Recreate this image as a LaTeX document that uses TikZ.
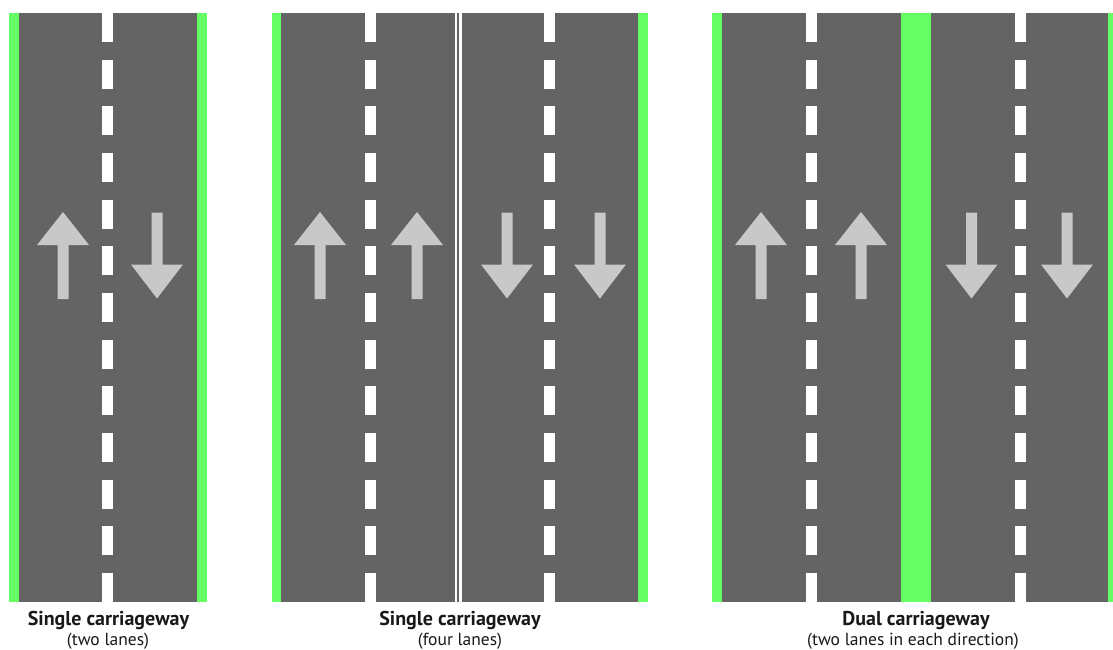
\documentclass[tikz,border=0pt]{standalone}
\usepackage{fontspec}
\setmainfont{PT Sans}
\definecolor{roadgrey}{RGB}{100,100,100}
\definecolor{verge}{RGB}{102,255,102}
\definecolor{arrowgrey}{RGB}{200,200,200}
\definecolor{txt}{RGB}{25,25,25}
\tikzset{
  roadbed/.style={fill=roadgrey},
  vergebed/.style={fill=verge},
  dashmark/.style={fill=white},
  arrowshape/.style={fill=arrowgrey},
  title/.style={anchor=base, text=txt, font=\bfseries\fontsize{20}{22}\selectfont, inner sep=0pt},
  subtitle/.style={anchor=base, text=txt, font=\fontsize{17.5}{19}\selectfont, inner sep=0pt},
  uparrow/.pic={\fill[arrowshape] (0,0) -- (26,33) -- (5.5,33) -- (5.5,87) -- (-5.5,87) -- (-5.5,33) -- (-26,33) -- cycle;},
  downarrow/.pic={\fill[arrowshape] (-5.5,0) -- (5.5,0) -- (5.5,52) -- (26,52) -- (0,86) -- (-26,52) -- (-5.5,52) -- cycle;}
}
\newcommand{\lanedashes}[1]{%
  \foreach \k in {0,...,12}{%
    \fill[dashmark] ({#1-5.5},{13+\k*46.67}) rectangle ({#1+5.5},{13+\k*46.67+29});
  }}
\begin{document}
\begin{tikzpicture}[x=1pt,y=-1pt]
\useasboundingbox (0,0) rectangle (1113,650);
\fill[white] (0,0) rectangle (1113,650);
% Road 1
\fill[vergebed] (9,13) rectangle (207,602);
\fill[roadbed] (19,13) rectangle (197,602);
\lanedashes{107.5}
\pic at (63,212) {uparrow};
\pic at (157,212.5) {downarrow};
% Road 2
\fill[vergebed] (272,13) rectangle (648,602);
\fill[roadbed] (281,13) rectangle (638,602);
\lanedashes{370}
\lanedashes{549}
\fill[white] (454.7,13) rectangle (457.4,602);
\fill[white] (459.2,13) rectangle (461.9,602);
\pic at (320,212) {uparrow};
\pic at (417,212) {uparrow};
\pic at (507,212.5) {downarrow};
\pic at (600,212.5) {downarrow};
% Road 3
\fill[vergebed] (712,13) rectangle (1113,602);
\fill[roadbed] (722,13) rectangle (900.5,602);
\fill[roadbed] (931,13) rectangle (1108,602);
\lanedashes{811.5}
\lanedashes{1020.5}
\pic at (761,212) {uparrow};
\pic at (861,212) {uparrow};
\pic at (971.5,212.5) {downarrow};
\pic at (1067,212.5) {downarrow};
% Labels
\node[title] (t1) at (108.5,625) {Single carriageway};
\node[subtitle] (s1) at (108,645) {(two lanes)};
\node[title] (t2) at (460,625) {Single carriageway};
\node[subtitle] (s2) at (460,645) {(four lanes)};
\node[title] (t3) at (916,625) {Dual carriageway};
\node[subtitle] (s3) at (913,645) {(two lanes in each direction)};
\end{tikzpicture}
\end{document}
